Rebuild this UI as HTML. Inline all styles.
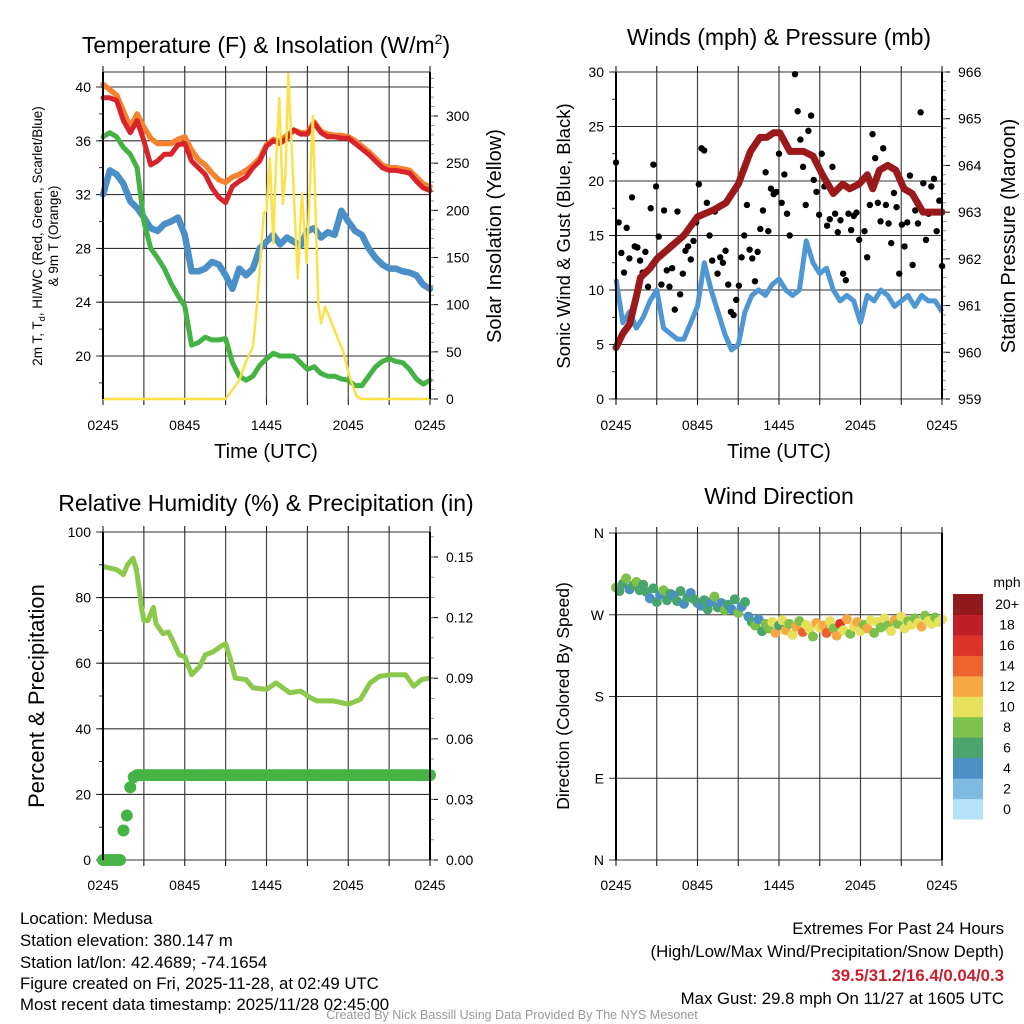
<!DOCTYPE html>
<html><head><meta charset="utf-8">
<style>
html,body{margin:0;padding:0;background:#fff;}
svg{display:block;font-family:"Liberation Sans",sans-serif;}
</style></head>
<body>
<svg id="chart" width="1024" height="1024" viewBox="0 0 1024 1024" xmlns="http://www.w3.org/2000/svg">
<rect width="1024" height="1024" fill="#fff"/>
<g id="gTL"></g>
<g id="gTR"></g>
<g id="gBL"></g>
<g id="gBR"></g>

<text x="266" y="53" font-size="23" text-anchor="middle">Temperature (F) &amp; Insolation (W/m<tspan font-size="14" dy="-9">2</tspan><tspan dy="9">)</tspan></text>
<text x="779" y="45" font-size="23" text-anchor="middle">Winds (mph) &amp; Pressure (mb)</text>
<text x="266" y="511" font-size="23" text-anchor="middle">Relative Humidity (%) &amp; Precipitation (in)</text>
<text x="779" y="504" font-size="23" text-anchor="middle">Wind Direction</text>

<text transform="translate(42,236) rotate(-90)" font-size="13.5" text-anchor="middle">2m T, T<tspan font-size="9" dy="3">d</tspan><tspan dy="-3">, HI/WC (Red, Green, Scarlet/Blue)</tspan></text>
<text transform="translate(58,236) rotate(-90)" font-size="13.5" text-anchor="middle">&amp; 9m T (Orange)</text>
<text transform="translate(501,236) rotate(-90)" font-size="20" text-anchor="middle">Solar Insolation (Yellow)</text>
<text x="266" y="458" font-size="20" text-anchor="middle">Time (UTC)</text>
<text transform="translate(570,236) rotate(-90)" font-size="18.5" text-anchor="middle">Sonic Wind &amp; Gust (Blue, Black)</text>
<text transform="translate(1015,236) rotate(-90)" font-size="20" text-anchor="middle">Station Pressure (Maroon)</text>
<text x="779" y="458" font-size="20" text-anchor="middle">Time (UTC)</text>
<text transform="translate(44,696) rotate(-90)" font-size="22" text-anchor="middle">Percent &amp; Precipitation</text>
<text transform="translate(569,696) rotate(-90)" font-size="17.5" text-anchor="middle">Direction (Colored By Speed)</text>

<g font-size="16.8">
<text x="20" y="924">Location: Medusa</text>
<text x="20" y="946">Station elevation: 380.147 m</text>
<text x="20" y="968">Station lat/lon: 42.4689; -74.1654</text>
<text x="20" y="989">Figure created on Fri, 2025-11-28, at 02:49 UTC</text>
<text x="20" y="1010">Most recent data timestamp: 2025/11/28 02:45:00</text>
<text x="1004" y="934" text-anchor="end">Extremes For Past 24 Hours</text>
<text x="1004" y="957" text-anchor="end">(High/Low/Max Wind/Precipitation/Snow Depth)</text>
<text x="1004" y="981" text-anchor="end" fill="#c8202e" font-weight="bold">39.5/31.2/16.4/0.04/0.3</text>
<text x="1004" y="1004" text-anchor="end">Max Gust: 29.8 mph On 11/27 at 1605 UTC</text>
<text x="512" y="1019" text-anchor="middle" font-size="12.5" fill="#999">Created By Nick Bassill Using Data Provided By The NYS Mesonet</text>
</g>
</svg>
<script>
// ---------- data ----------
const timeTickLabels = ["0245","0845","1445","2045","0245"];
const tempTicks = [20,24,28,32,36,40];
const solarTicks = [0,50,100,150,200,250,300];
const windTicks = [0,5,10,15,20,25,30];
const pressTicks = [959,960,961,962,963,964,965,966];
const rhTicks = [0,20,40,60,80,100];
const precipTicks = [0.00,0.03,0.06,0.09,0.12,0.15];
const precipTickLabels = ["0.00","0.03","0.06","0.09","0.12","0.15"];
const dirTicks = [0,90,180,270,360];
const dirTickLabels = ["N","E","S","W","N"];

const tempRed = [39.2,39.2,39.0,37.5,36.6,37.5,36.0,34.2,34.5,35.0,35.0,35.7,35.8,34.5,34.0,33.5,32.5,31.8,31.4,32.6,33.0,33.3,34.0,34.5,35.6,36.0,35.8,36.2,36.8,36.5,36.5,37.3,36.6,36.3,36.3,36.2,36.2,35.8,35.4,35.0,34.5,34.0,33.8,33.8,33.7,33.6,33.0,32.5,32.3];
const tempOrange = [40.2,39.8,39.4,38.2,37.0,38.0,37.0,36.2,35.8,35.8,35.8,36.1,36.3,35.3,34.6,34.2,33.6,33.1,32.9,33.3,33.5,33.8,34.2,34.7,35.7,36.1,36.0,36.4,36.8,36.6,36.6,37.4,36.7,36.5,36.4,36.4,36.3,36.0,35.6,35.2,34.7,34.2,34.0,34.0,33.9,33.8,33.3,32.8,32.6];
const dewGreen = [36.3,36.6,36.3,35.5,35.0,34.0,30.0,28.0,27.3,26.5,25.4,24.5,23.7,20.8,21.0,21.4,21.2,21.2,21.3,19.5,18.5,18.2,18.5,19.3,19.8,20.2,20.0,20.0,20.0,19.5,19.0,19.2,18.7,18.5,18.5,18.3,18.2,17.8,17.8,18.5,19.2,19.6,19.8,19.6,19.5,19.0,18.3,17.9,18.2];
const chillBlue = [32.0,33.8,33.5,32.8,31.5,31.0,30.3,29.5,29.3,29.8,30.0,30.3,29.0,26.3,26.3,26.5,27.0,26.8,26.0,25.0,26.5,26.0,26.5,28.0,28.5,29.0,28.3,28.8,28.5,28.2,29.3,29.5,28.8,29.2,29.0,30.8,30.0,29.3,29.0,28.0,27.3,26.8,26.5,26.5,26.3,26.2,26.0,25.3,25.0];
const solarTimes = [0,9.0,9.5,10,10.5,11,11.3,11.8,12.0,12.25,12.5,12.7,12.94,13.2,13.4,13.6,13.97,14.3,14.6,14.95,15.2,15.4,15.8,16.0,16.3,16.8,17.2,17.6,18.1,18.6,19.0,24];
const solarValues = [0,0,10,20,40,55,100,197,200,255,165,250,319,207,240,345,229,128,218,144,230,300,101,80,98,80,65,52,24,3,0,0];

const windBlue = [11,7,8,6.5,7.5,9,10,6.5,6,5.5,5.5,7,8.5,12.5,10,8,6,4.5,5,8,9.5,10,9.5,10.5,11,10,9.5,10,14.5,12.5,11.5,12,10,9,9.5,9,7,9.5,9,10,9.5,8.5,9,9.5,8.5,9.5,9,9,8];
const gustValues = [21.7,16.2,13.4,11.6,15.7,12.9,18.5,14,13.9,12.7,11.6,13.5,10.3,17.5,21.5,19.5,14.9,10.5,17.3,11.8,10.3,12,8.2,17.2,9.6,11.5,13.6,14,12.8,14.5,16.2,19.7,23,22.8,18,15,12.7,17.2,11.5,13,12.5,13.6,10.5,8,7.7,9.1,10.4,13,15,17.8,13.7,12.9,10.8,13.5,15.6,17.3,20.8,15.4,19.3,18.8,19.0,22.5,18.0,20.6,17,15.0,22.7,29.8,26.4,23.8,21.3,17.8,24.6,26,20.1,19,16.9,22.5,19.5,15.9,16.5,21.3,17,15.3,16.4,11.5,10.9,17,15.5,16.8,17.1,14.6,20.1,15.4,13,17.8,24.3,22.1,18,16.3,23,17.8,16.1,14.3,18.9,17.6,11.5,16,14,16.2,20.5,12.3,17.3,16.1,26.3,19.8,14.6,17.0,19.5,20.2,15.4,18.2,12.2];
const pressTimes = [0,0.5,1,1.5,1.8,2.5,3,4.2,5,6,7.2,8.1,9,9.9,10.6,11.1,11.6,12.05,12.8,13.8,14.5,15.2,16,16.7,17.2,17.9,18.5,18.9,19.4,20,20.6,21.2,21.8,22.6,23.3,24];
const pressValues = [960.1,960.4,960.6,961.2,961.6,961.8,962.0,962.3,962.5,962.9,963.05,963.2,963.6,964.3,964.6,964.6,964.7,964.7,964.3,964.3,964.2,963.8,963.4,963.6,963.5,963.6,963.8,963.5,963.9,964.0,963.9,963.5,963.4,963.0,963.0,963.0];

const rhTimes = [0,0.5,1,1.2,1.5,1.8,2.2,2.45,2.7,2.8,3.0,3.3,3.7,3.9,4.4,4.8,5.1,5.6,6.0,6.5,7.1,7.5,8.1,8.6,9.0,9.3,9.7,10.5,11,12,12.7,13.7,14.5,15.2,15.7,16.9,18,18.9,19.6,20.3,21.1,22.2,22.8,23.4,24];
const rhValues = [89.5,89,88.5,88,87,90,92,88.5,81.5,77.5,73,73,77,72,69,69.5,67,62.5,62,56.5,59,62.5,63.5,65,66,62,55.5,55,52.5,52,54,51,51.5,49.5,48.5,48.5,47.5,49,54,56,56.5,56.5,53,55,55.5];
const precipValues = [0,0,0,0,0,0,0.0146,0.022,0.036,0.041,0.042,0.042,0.042,0.042,0.042,0.042,0.042,0.042,0.042,0.042,0.042,0.042,0.042,0.042,0.042,0.042,0.042,0.042,0.042,0.042,0.042,0.042,0.042,0.042,0.042,0.042,0.042,0.042,0.042,0.042,0.042,0.042,0.042,0.042,0.042,0.042,0.042,0.042,0.042,0.042,0.042,0.042,0.042,0.042,0.042,0.042,0.042,0.042,0.042,0.042,0.042,0.042,0.042,0.042,0.042,0.042,0.042,0.042,0.042,0.042,0.042,0.042,0.042,0.042,0.042,0.042,0.042,0.042,0.042,0.042,0.042,0.042,0.042,0.042,0.042,0.042,0.042,0.042,0.042,0.042,0.042,0.042,0.042,0.042,0.042,0.042,0.042];

const dirValues = [300,296,304,310,298,302,306,297,303, 295,288,299,284,292,297,286,293, 291,285,296,282,289,294,287,283, 280,286,276,284,290,278,283,275, 281,276,287,272,279,284, 268,262,258,265,252,260, 255,262,250,258,264,253,260,248,257,263,251,259,254,246,261,256, 258,250,263,255,247,260,253,265,249,257,262,252,259,255,264,250, 262,256,266,258,252,264,260,268,255,263,259,266,261,257,269,263,260,267,262,265];
const speedValues = [9,6,7,8,5,6,9,7,6, 6,4,7,6,5,9,6,7, 4,6,7,5,6,4,7,6, 5,7,6,4,8,6,5,9, 7,4,6,9,5,7, 4,6,8,5,7,8, 9,11,12,7,10,13,9,11,12,8,14,10,11,9,13,10, 12,15,10,9,13,17,11,12,8,10,13,11,9,12,10,8, 10,9,11,8,10,12,9,11,10,8,11,9,10,12,8,10,11,9,10,11];
const speedBinLabels = ["0","2","4","6","8","10","12","14","16","18","20+"];
const speedColors = ["#b5e2f6","#7fbae3","#4a90c7","#4aa46e","#7dc04a","#e6e05a","#f5a844","#ee622e","#dc3429","#bf1f27","#921a1c"];

// ---------- helpers ----------
const NS = "http://www.w3.org/2000/svg";
function mk(parent, tag, attrs){
  const e = document.createElementNS(NS, tag);
  for (const k in attrs) e.setAttribute(k, attrs[k]);
  parent.appendChild(e);
  return e;
}
function scale(d0,d1,r0,r1){ return v => r0 + (v-d0)*(r1-r0)/(d1-d0); }

function frame(g, L, R, T, B, timeLabelY){
  const xs = scale(0,24,L,R);
  for (let h=0; h<=24; h+=3){
    const gl = mk(g,'line',{x1:xs(h),x2:xs(h),y1:T,y2:B,stroke:'#444','stroke-width':1.2});
    
    
    const tk = mk(g,'line',{x1:xs(h),x2:xs(h),y1:B,y2:B+6,stroke:'#000','stroke-width':1});
    
    
    const tk2 = mk(g,'line',{x1:xs(h),x2:xs(h),y1:T-6,y2:T,stroke:'#000','stroke-width':1});
    
    
  }
  timeTickLabels.forEach((lab,i)=>{
    const t = mk(g,'text',{x:xs(i*6),y:timeLabelY,'font-size':14,'text-anchor':'middle'});
    
    
    t.textContent = lab;
  });
  return xs;
}
function leftAxis(g, ticks, labels, ys, L, minorStep, d0, d1){
  ticks.forEach((v,i)=>{
    const gl = mk(g,'line',{x1:L-7,x2:L+327,y1:ys(v),y2:ys(v),stroke:'#333','stroke-width':1.1});
    
    
    const t = mk(g,'text',{x:L-12,y:ys(v)+5,'font-size':14,'text-anchor':'end'});
    
    
    t.textContent = labels ? labels[i] : v;
  });
  if (minorStep){
    for (let v=d0; v<=d1+1e-9; v+=minorStep){
      const m = mk(g,'line',{x1:L-4,x2:L,y1:ys(v),y2:ys(v),stroke:'#000','stroke-width':0.8});
      
      
    }
  }
}
function rightAxis(g, ticks, labels, ys, R, minorStep, d0, d1){
  ticks.forEach((v,i)=>{
    const tk = mk(g,'line',{x1:R,x2:R+8,y1:ys(v),y2:ys(v),stroke:'#000','stroke-width':1});
    
    
    const t = mk(g,'text',{x:R+16,y:ys(v)+5,'font-size':14,'text-anchor':'start'});
    
    
    t.textContent = labels ? labels[i] : v;
  });
  if (minorStep){
    for (let v=d0; v<=d1+1e-9; v+=minorStep){
      const m = mk(g,'line',{x1:R,x2:R+4,y1:ys(v),y2:ys(v),stroke:'#777','stroke-width':0.8});
      
      
    }
  }
}
function border(g,L,R,T,B){
  const a = mk(g,'line',{x1:L,x2:L,y1:T,y2:B,stroke:'#000','stroke-width':2});
  
  
  const b = mk(g,'line',{x1:R,x2:R,y1:T,y2:B,stroke:'#000','stroke-width':2});
  
  
}
function pathFrom(times, vals, xs, ys){
  return vals.map((v,i)=>(i?'L':'M')+xs(times[i]).toFixed(1)+','+ys(v).toFixed(1)).join('');
}
function evenTimes(n){ const a=[]; for(let i=0;i<n;i++) a.push(i*24/(n-1)); return a; }

// ---------- Top-left: temperature ----------
(function(){
  const g = document.getElementById('gTL');
  const L=103,R=430,T=72,B=399;
  const xs = frame(g,L,R,T,B,430);
  const ys = scale(20,40,356,87);
  const ysS = scale(0,300,399,116);
  leftAxis(g,tempTicks,null,ys,L,2,18,40);
  rightAxis(g,solarTicks,null,ysS,R,10,0,340);
  const top = mk(g,'line',{x1:L,x2:R,y1:T,y2:T,stroke:'#333','stroke-width':1});
  
  
  const tt = evenTimes(49);
  const series = [
    ['chill-line',chillBlue,'#4a8fc8',6.5],
    ['dewpoint-line',dewGreen,'#44b244',5],
    ['temp-9m-line',tempOrange,'#f5822f',5.5],
    ['temp-2m-line',tempRed,'#d8232a',5]
  ];
  series.forEach(s=>{
    const p = mk(g,'path',{d:pathFrom(tt,s[1],xs,ys),fill:'none',stroke:s[2],'stroke-width':s[3],'stroke-linejoin':'round','stroke-linecap':'round'});
    
    
  });
  const sp = mk(g,'path',{d:pathFrom(solarTimes,solarValues,xs,ysS),fill:'none',stroke:'#fbe14a','stroke-width':2.5,'stroke-linejoin':'round'});
  
  
  border(g,L,R,T,B);
})();

// ---------- Top-right: wind & pressure ----------
(function(){
  const g = document.getElementById('gTR');
  const L=616,R=942,T=72,B=399;
  const xs = frame(g,L,R,T,B,430);
  const ys = scale(0,30,B,T);
  const ysP = scale(959,966,B,T);
  leftAxis(g,windTicks,null,ys,L,2.5,0,30);
  rightAxis(g,pressTicks,null,ysP,R,0.2,959,966);
  const wp = mk(g,'path',{d:pathFrom(evenTimes(windBlue.length),windBlue,xs,ys),fill:'none',stroke:'#4f97d3','stroke-width':5,'stroke-linejoin':'round'});
  
  
  const gt = evenTimes(gustValues.length);
  gustValues.forEach((v,i)=>{
    const c = mk(g,'circle',{cx:xs(gt[i]),cy:ys(v),r:3.2,fill:'#000'});
    
    
  });
  const pp = mk(g,'path',{d:pathFrom(pressTimes,pressValues,xs,ysP),fill:'none',stroke:'#9a1a1c','stroke-width':7,'stroke-linejoin':'round','stroke-linecap':'round'});
  
  
  border(g,L,R,T,B);
})();

// ---------- Bottom-left: RH & precip ----------
(function(){
  const g = document.getElementById('gBL');
  const L=103,R=430,T=532,B=860;
  const xs = frame(g,L,R,T,B,890);
  const ys = scale(0,100,B,T);
  const ysP = scale(0,0.15,B,557);
  leftAxis(g,rhTicks,null,ys,L,10,0,100);
  rightAxis(g,precipTicks,precipTickLabels,ysP,R,0.01,0,0.16);
  const pt = evenTimes(precipValues.length);
  precipValues.forEach((v,i)=>{
    const c = mk(g,'circle',{cx:xs(pt[i]),cy:ysP(v),r:6,fill:'#45b345'});
    
    
  });
  const rp = mk(g,'path',{d:pathFrom(rhTimes,rhValues,xs,ys),fill:'none',stroke:'#8cc84b','stroke-width':5,'stroke-linejoin':'round'});
  
  
  border(g,L,R,T,B);
})();

// ---------- Bottom-right: wind direction ----------
(function(){
  const g = document.getElementById('gBR');
  const L=616,R=942,T=533,B=860;
  const xs = frame(g,L,R,T,B,890);
  const ys = scale(0,360,B,T);
  leftAxis(g,dirTicks,dirTickLabels,ys,L,0,0,0);
  const dt = evenTimes(dirValues.length);
  dirValues.forEach((v,i)=>{
    const bin = Math.min(10, Math.floor(speedValues[i]/2));
    const c = mk(g,'circle',{cx:xs(dt[i]),cy:ys(v),r:5,fill:speedColors[bin]});
    
    
  });
  border(g,L,R,T,B);
  const cbTop=594, cbH=225/11;
  speedColors.forEach((col,i)=>{
    const y = cbTop + (10-i)*cbH;
    const r = mk(g,'rect',{x:953,y:y,width:30,height:cbH+0.5,fill:col});
    
    
    const t = mk(g,'text',{x:1007,y:y+cbH/2+5,'font-size':14,'text-anchor':'middle'});
    
    
    t.textContent = speedBinLabels[i];
  });
  const u = mk(g,'text',{x:1007,y:587,'font-size':14,'text-anchor':'middle'});
  
  
  u.textContent = 'mph';
})();
</script>
</body></html>
